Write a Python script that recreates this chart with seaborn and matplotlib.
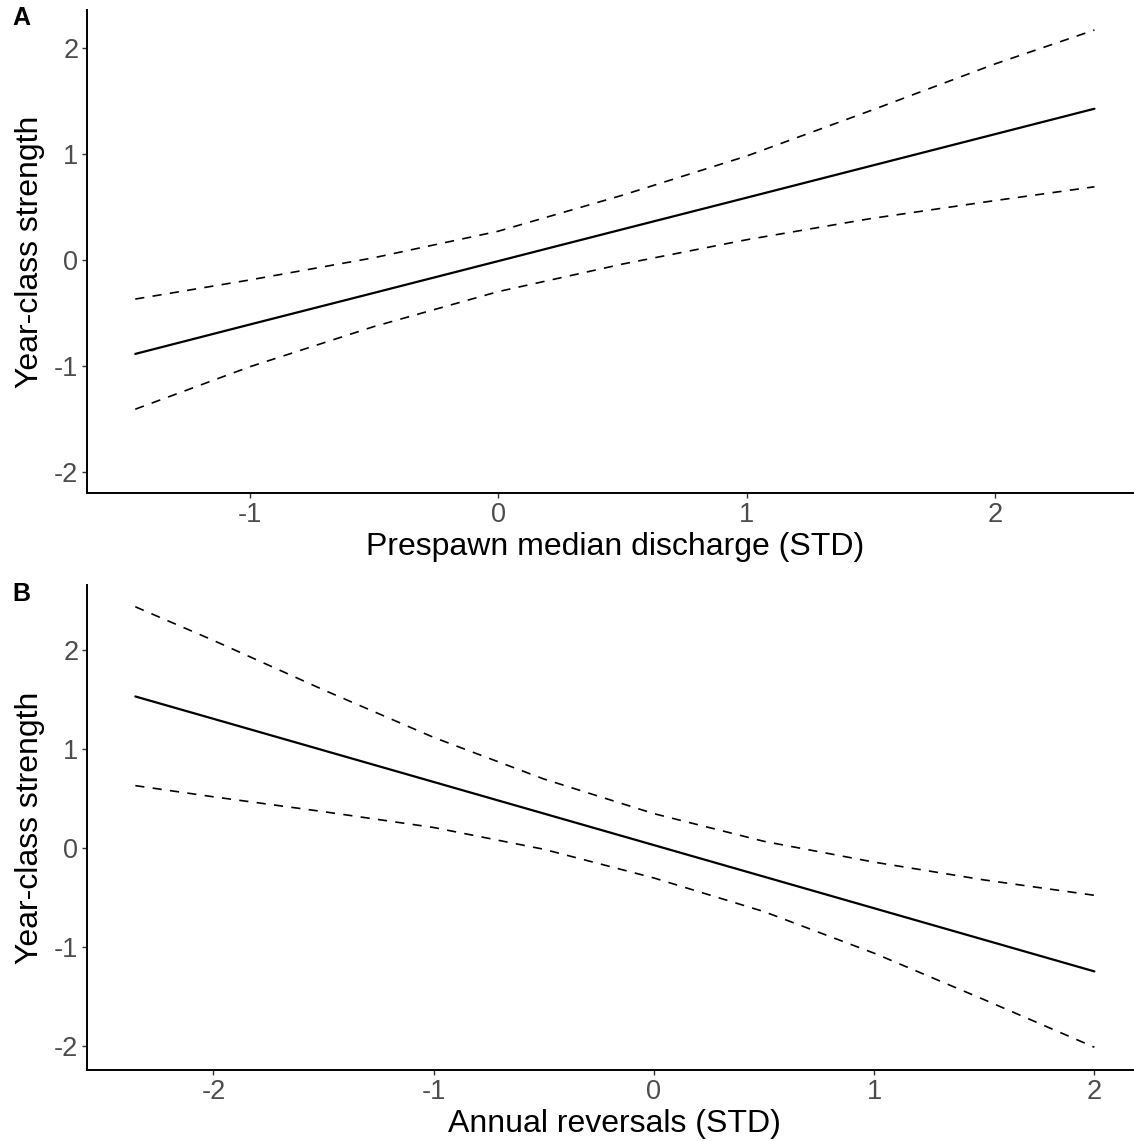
import pandas as pd
import seaborn as sns
import matplotlib.pyplot as plt

# panel A - prespawn median discharge
disch_x = [-1.46, -1.0, -0.5, 0.0, 0.5, 1.0, 1.5, 2.0, 2.4]
disch_fit = [-0.888, -0.611, -0.312, -0.012, 0.288, 0.587, 0.887, 1.187, 1.427]
disch_upr = [-0.37, -0.19, 0.02, 0.27, 0.61, 0.98, 1.41, 1.85, 2.17]
disch_lwr = [-1.41, -1.01, -0.63, -0.30, -0.04, 0.19, 0.39, 0.56, 0.69]

# panel B - annual reversals
rev_x = [-2.355, -2.0, -1.5, -1.0, -0.5, 0.0, 0.5, 1.0, 1.5, 2.0]
rev_fit = [1.534, 1.308, 0.989, 0.670, 0.351, 0.032, -0.287, -0.606, -0.925, -1.244]
rev_upr = [2.44, 2.10, 1.60, 1.12, 0.70, 0.35, 0.07, -0.14, -0.32, -0.475]
rev_lwr = [0.633, 0.52, 0.37, 0.21, -0.01, -0.30, -0.64, -1.06, -1.53, -2.01]

sns.set_style("ticks")
plt.rcParams["font.family"] = ["Liberation Sans", "DejaVu Sans"]

W, H = 1134, 1141
fig = plt.figure(figsize=(W / 100, H / 100), dpi=100)

DASH = (0, (5.5, 5))


def panel(top, bot, x, fit, upr, lwr, xlim, ylim, xticks, yticks, xlab, letter, letter_y):
    ax = fig.add_axes([87.3 / W, (H - bot) / H, (1142.4 - 87.3) / W, (bot - top) / H])
    df = pd.DataFrame({"x": x, "fit": fit, "upr": upr, "lwr": lwr})
    sns.lineplot(data=df, x="x", y="fit", ax=ax, color="black", lw=1.6)
    sns.lineplot(data=df, x="x", y="upr", ax=ax, color="black", lw=1.2, linestyle=DASH)
    sns.lineplot(data=df, x="x", y="lwr", ax=ax, color="black", lw=1.2, linestyle=DASH)
    ax.set_xlim(*xlim)
    ax.set_ylim(*ylim)
    ax.set_xticks(xticks)
    ax.set_yticks(yticks)
    ax.set_xticklabels([str(t) for t in xticks])
    ax.set_yticklabels([str(t) for t in yticks])
    sns.despine(ax=ax)
    for s in ["left", "bottom"]:
        ax.spines[s].set_linewidth(1.4)
        ax.spines[s].set_color("black")
    ax.tick_params(axis="both", length=3.5, width=1.0, color="#333333",
                   labelsize=19.5, labelcolor="#4D4D4D", pad=3)
    ax.set_xlabel(xlab, fontsize=23, color="black")
    ax.set_ylabel("Year-class strength", fontsize=23, color="black")
    ax.xaxis.set_label_coords(0.5, -0.080)
    ax.yaxis.set_label_coords(-0.040, 0.5)
    fig.text(12 / W, 1 - letter_y / H, letter, fontsize=18, fontweight="bold",
             va="top", ha="left", color="black")
    return ax


panel(9.6, 493.3, disch_x, disch_fit, disch_upr, disch_lwr,
      (-1.653, 2.593), (-2.204, 2.363), [-1, 0, 1, 2], [-2, -1, 0, 1, 2],
      "Prespawn median discharge (STD)", "A", 6)
panel(585.3, 1070, rev_x, rev_fit, rev_upr, rev_lwr,
      (-2.573, 2.218), (-2.24, 2.657), [-2, -1, 0, 1, 2], [-2, -1, 0, 1, 2],
      "Annual reversals (STD)", "B", 582)

fig.savefig("out.png", dpi=100)
